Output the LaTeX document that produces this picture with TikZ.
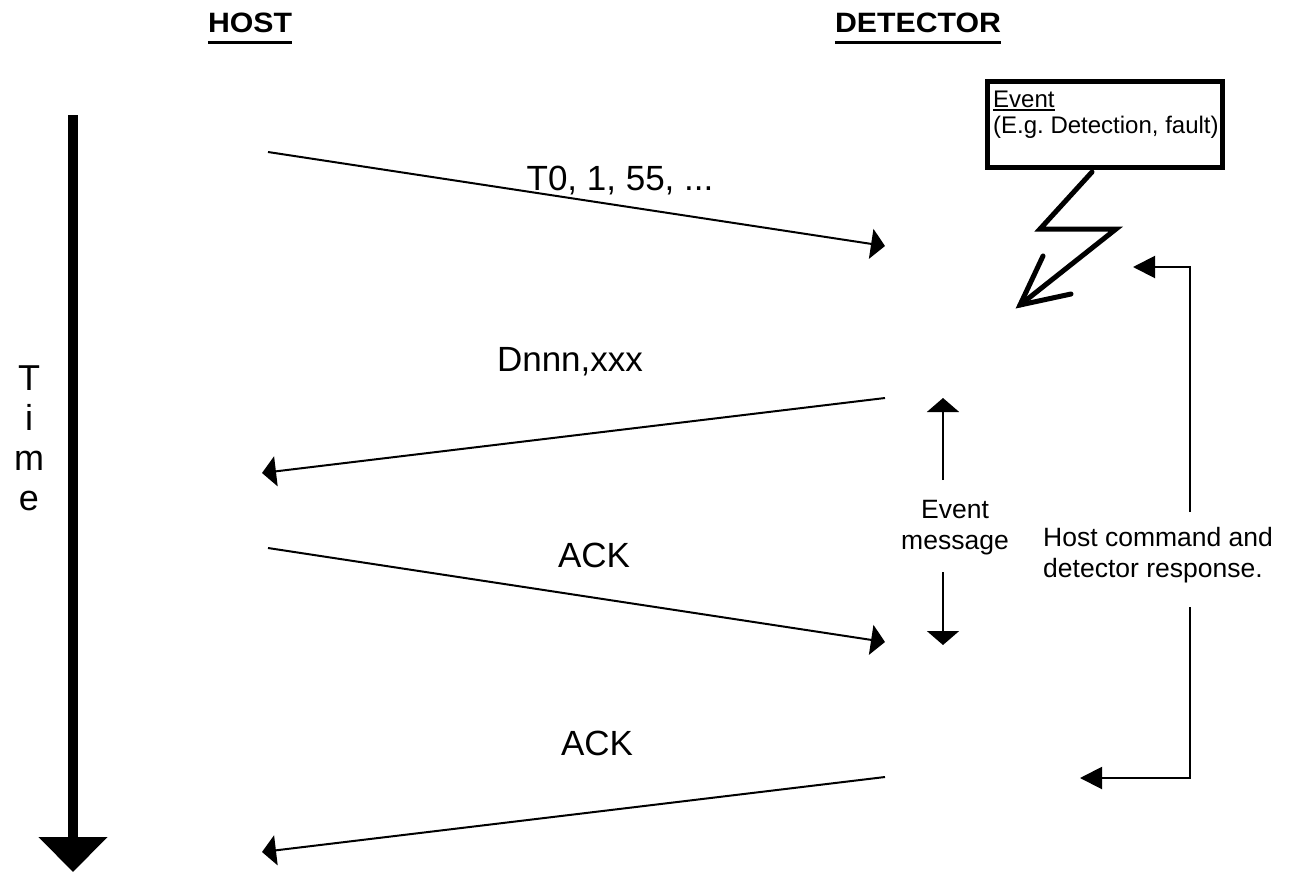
\documentclass[tikz,border=0pt]{standalone}
\usepackage{fontspec}
\setmainfont{Liberation Sans}
\newfontfamily\headfont[FakeStretch=1.08]{Liberation Sans}
\usepackage{tikz}
\usetikzlibrary{arrows.meta}
\frenchspacing

\begin{document}
\begin{tikzpicture}[
    x=1pt, y=-1pt,
    msg/.style={line width=2pt, -{Triangle[length=14pt, width=30pt]}},
    side/.style={line width=2pt, -{Triangle[length=22pt, width=22pt]}},
    head/.style={font=\headfont\bfseries\fontsize{28}{30}\selectfont, inner sep=0pt, anchor=base},
    biglabel/.style={font=\fontsize{35}{40}\selectfont, inner sep=0pt, anchor=base},
    note/.style={font=\fontsize{26.5}{31}\selectfont, inner sep=0pt},
]
    \useasboundingbox (0,0) rectangle (1294,873);

    % Column titles
    \node[head] (host) at (250,32) {HOST};
    \node[head] (det) at (918,32) {DETECTOR};
    \draw[line width=3pt] ([yshift=-10pt]host.base west) -- ([yshift=-10pt]host.base east);
    \draw[line width=3pt] ([yshift=-10pt]det.base west) -- ([yshift=-10pt]det.base east);

    % Time axis
    \coordinate (tstart) at (73,115);
    \coordinate (tend) at (73,872);
    \draw[line width=10pt, -{Triangle[length=35pt, width=67pt]}] (tstart) -- (tend);
    \node[font=\fontsize{36}{40}\selectfont, inner sep=0pt, anchor=north, align=center] (time) at (29,366) {T\\i\\m\\e};

    % Message end points
    \coordinate (h1) at (268,152);  \coordinate (d1) at (885,246);
    \coordinate (d2) at (885,398);  \coordinate (h2) at (262,473);
    \coordinate (h3) at (268,548);  \coordinate (d3) at (885,642);
    \coordinate (d4) at (885,777);  \coordinate (h4) at (262,852);

    % Messages
    \draw[msg] (h1) -- (d1);
    \draw[msg] (d2) -- (h2);
    \draw[msg] (h3) -- (d3);
    \draw[msg] (d4) -- (h4);
    \node[biglabel] (m1) at (620,190) {T0, 1, 55, ...};
    \node[biglabel] (m2) at (570,371) {Dnnn,xxx};
    \node[biglabel] (m3) at (594,567) {ACK};
    \node[biglabel] (m4) at (597,755) {ACK};

    % Event box
    \node[draw, line width=5pt, minimum width=235pt, minimum height=86pt] (ev) at (1105,124) {};
    \node[font=\fontsize{24}{27}\selectfont, inner sep=0pt, anchor=base west] (evhead) at (993,107) {Event};
    \node[font=\fontsize{24}{27}\selectfont, inner sep=0pt, anchor=base west] (evtext) at (993,133) {(E.g. Detection, fault)};
    \draw[line width=1.5pt] ([yshift=-3pt]evhead.base west) -- ([yshift=-3pt]evhead.base east);

    % Lightning
    \draw[line width=5pt, line cap=round] (1092,172) -- (1040,229) -- (1116,229) -- (1020,305);
    \draw[line width=5pt, line cap=round] (1043,256) -- (1020,305) -- (1071,294);

    % Event message span
    \coordinate (eup1) at (943,480);  \coordinate (eup2) at (943,398);
    \coordinate (edn1) at (943,572);  \coordinate (edn2) at (943,645);
    \draw[line width=2pt, -{Triangle[length=14pt, width=32pt]}] (eup1) -- (eup2);
    \draw[line width=2pt, -{Triangle[length=14pt, width=32pt]}] (edn1) -- (edn2);
    \node[note, anchor=north, align=center] (evmsg) at (955,500) {Event\\message};

    % Command / response span
    \coordinate (brtop) at (1190,512);  \coordinate (brtip1) at (1133,267);
    \coordinate (brbot) at (1190,607);  \coordinate (brtip2) at (1080,778);
    \draw[side] (brtop) |- (brtip1);
    \draw[side] (brbot) |- (brtip2);
    \node[note, anchor=north west, align=left] (cmd) at (1043,527) {Host command and\\detector response.};
\end{tikzpicture}
\end{document}
